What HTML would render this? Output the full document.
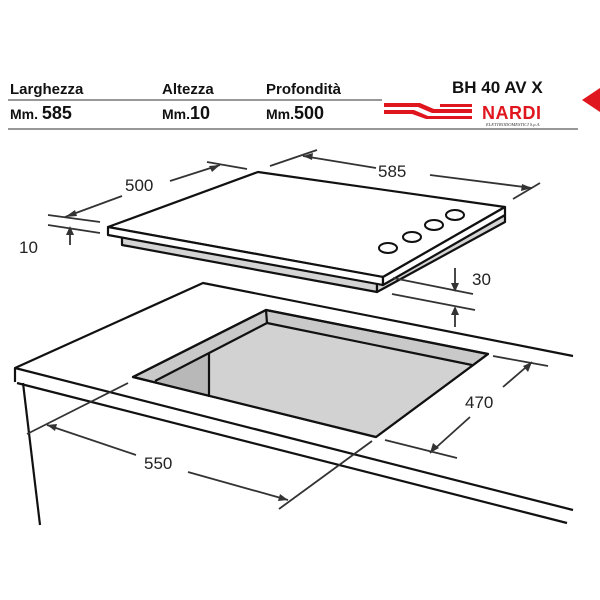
<!DOCTYPE html>
<html><head><meta charset="utf-8"><style>
html,body{margin:0;padding:0;background:#fff;width:600px;height:600px;overflow:hidden}
svg{display:block}
</style></head><body>
<svg width="600" height="600" viewBox="0 0 600 600" xmlns="http://www.w3.org/2000/svg" font-family="Liberation Sans, sans-serif">
<rect width="600" height="600" fill="#fff"/>
<!-- header -->
<g font-weight="bold" fill="#111">
<text x="10" y="94" font-size="15">Larghezza</text>
<text x="162" y="94" font-size="15">Altezza</text>
<text x="266" y="94" font-size="15">Profondità</text>
<text x="10" y="119" font-size="14">Mm. <tspan font-size="18">585</tspan></text>
<text x="162" y="119" font-size="14">Mm.<tspan font-size="18">10</tspan></text>
<text x="266" y="119" font-size="14">Mm.<tspan font-size="18">500</tspan></text>
<text x="452" y="93" font-size="17">BH 40 AV X</text>
</g>
<line x1="8" y1="100" x2="382" y2="100" stroke="#777" stroke-width="1.5"/>
<line x1="8" y1="129" x2="578" y2="129" stroke="#777" stroke-width="1.5"/>
<g fill="#e0161e">
<polygon points="384,103 420,103 434,109 472,109 472,113 432,113 418,107 384,107"/>
<polygon points="384,110 414,110 428,116 472,116 472,119 426,119 412,114 384,114"/>
<polygon points="440,104 472,104 472,107 440,107"/>
<text x="482" y="119" font-size="18" font-weight="bold" letter-spacing="0.5">NARDI</text>
<polygon points="582,100 600,88 600,112"/>
</g>
<text x="486" y="126" font-size="4.5" font-style="italic" font-family="Liberation Serif, serif" fill="#333">ELETTRODOMESTICI S.p.A.</text>

<g stroke="#111" stroke-width="2.2" fill="none" stroke-linejoin="round">
<!-- hob -->
<polygon points="122,234 377,283 377,292 122,245" fill="#d4d4d4"/>
<polygon points="377,283 505,215 505,222 377,292" fill="#d4d4d4"/>
<polygon points="108,227 258,172 505,207 383,277" fill="#fff"/>
<polygon points="108,227 383,277 383,285 108,235" fill="#fff"/>
<polygon points="383,277 505,207 505,215 383,285" fill="#fff"/>
<g stroke-width="2">
<ellipse cx="388" cy="248" rx="9" ry="5"/><ellipse cx="412" cy="237" rx="9" ry="5"/>
<ellipse cx="434" cy="225" rx="9" ry="5"/><ellipse cx="455" cy="215" rx="9" ry="5"/>
</g>
<!-- counter -->
<polyline points="573,356 203,283 15,368 15,382"/>
<line x1="15" y1="368" x2="573" y2="510"/>
<line x1="17" y1="383" x2="567" y2="523"/>
<line x1="23" y1="383" x2="40" y2="525"/>
<!-- hole -->
<polygon points="133,377 266,310 488,354 376,437" fill="#c9c9c9"/>
<polygon points="209,353 267,323 472,365 376,437 209,396" fill="#d2d2d2" stroke="none"/>
<polygon points="155,381 209,353 209,396" fill="#b8b8b8" stroke="none"/>
<polyline points="155,381 267,323 472,365"/>
<line x1="266" y1="310" x2="267" y2="323"/>
<line x1="209" y1="353" x2="209" y2="397"/>
<polygon points="133,377 266,310 488,354 376,437"/>
</g>

<!-- dimension lines -->
<g stroke="#333" stroke-width="1.8" fill="none">
<line x1="207" y1="162" x2="247" y2="169"/>
<line x1="48" y1="215" x2="100" y2="222"/>
<line x1="48" y1="225" x2="100" y2="233"/>
<line x1="65" y1="217" x2="122" y2="196"/><line x1="170" y1="181" x2="220" y2="165"/>
<line x1="70" y1="245" x2="70" y2="228"/>
<line x1="270" y1="166" x2="317" y2="150"/>
<line x1="513" y1="199" x2="540" y2="183"/>
<line x1="303" y1="156" x2="376" y2="168"/><line x1="430" y1="175" x2="532" y2="188"/>
<line x1="393" y1="278" x2="473" y2="294"/>
<line x1="392" y1="294" x2="475" y2="310"/>
<line x1="455" y1="268" x2="455" y2="290"/>
<line x1="455" y1="327" x2="455" y2="308"/>
<line x1="493" y1="356" x2="548" y2="366"/>
<line x1="385" y1="440" x2="457" y2="458"/>
<line x1="430" y1="453" x2="470" y2="417"/><line x1="503" y1="387" x2="532" y2="362"/>
<line x1="128" y1="383" x2="27" y2="434"/>
<line x1="372" y1="441" x2="279" y2="509"/>
<line x1="47" y1="425" x2="136" y2="455"/><line x1="188" y1="472" x2="288" y2="500"/>
</g>
<g fill="#333">
<polygon points="65,217 75,210 77,216"/>
<polygon points="220,165 209,166 212,172"/>
<polygon points="70,226 66,235 74,235"/>
<polygon points="303,156 313,153 312,160"/>
<polygon points="532,188 522,184 521,191"/>
<polygon points="455,292 451,283 459,283"/>
<polygon points="455,306 451,315 459,315"/>
<polygon points="532,362 528,372 523,366"/>
<polygon points="430,453 433,443 439,448"/>
<polygon points="47,425 57,424 55,431"/>
<polygon points="288,500 278,501 280,494"/>
</g>
<g fill="#222" font-size="17">
<text x="125" y="191">500</text>
<text x="378" y="177">585</text>
<text x="19" y="253">10</text>
<text x="472" y="285">30</text>
<text x="465" y="408">470</text>
<text x="144" y="469">550</text>
</g>
</svg>
</body></html>
